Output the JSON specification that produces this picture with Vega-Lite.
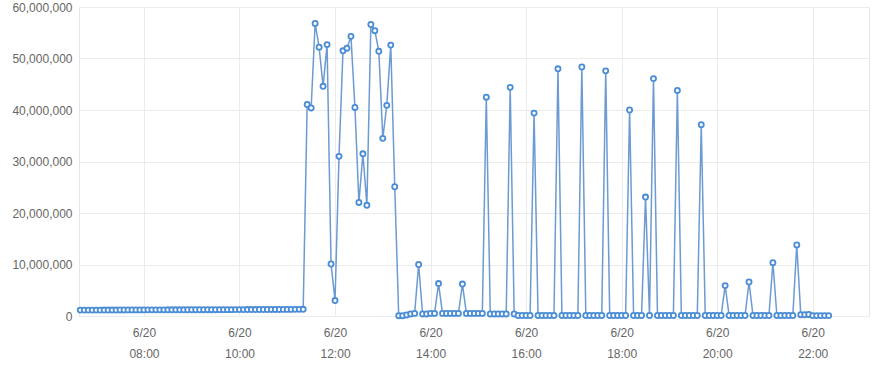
{
  "$schema": "https://vega.github.io/schema/vega-lite/v6.json",
  "autosize": "none",
  "width": 790,
  "height": 309,
  "padding": {"left": 79, "top": 7, "right": 7, "bottom": 54},
  "background": "white",
  "config": {
    "view": {"stroke": "#e6e6e6"},
    "font": "Liberation Sans",
    "axis": {"labelFont": "Liberation Sans", "labelFontSize": 12, "labelColor": "#666666", "gridColor": "#ebebeb", "domain": false, "ticks": false}
  },
  "data": {
    "values": [
      {"t": "2024-06-20T06:40", "v": 1150000},
      {"t": "2024-06-20T06:45", "v": 1150000},
      {"t": "2024-06-20T06:50", "v": 1150000},
      {"t": "2024-06-20T06:55", "v": 1150000},
      {"t": "2024-06-20T07:00", "v": 1150000},
      {"t": "2024-06-20T07:05", "v": 1150000},
      {"t": "2024-06-20T07:10", "v": 1160000},
      {"t": "2024-06-20T07:15", "v": 1160000},
      {"t": "2024-06-20T07:20", "v": 1160000},
      {"t": "2024-06-20T07:25", "v": 1160000},
      {"t": "2024-06-20T07:30", "v": 1170000},
      {"t": "2024-06-20T07:35", "v": 1170000},
      {"t": "2024-06-20T07:40", "v": 1180000},
      {"t": "2024-06-20T07:45", "v": 1180000},
      {"t": "2024-06-20T07:50", "v": 1180000},
      {"t": "2024-06-20T07:55", "v": 1180000},
      {"t": "2024-06-20T08:00", "v": 1180000},
      {"t": "2024-06-20T08:05", "v": 1190000},
      {"t": "2024-06-20T08:10", "v": 1190000},
      {"t": "2024-06-20T08:15", "v": 1190000},
      {"t": "2024-06-20T08:20", "v": 1190000},
      {"t": "2024-06-20T08:25", "v": 1190000},
      {"t": "2024-06-20T08:30", "v": 1200000},
      {"t": "2024-06-20T08:35", "v": 1200000},
      {"t": "2024-06-20T08:40", "v": 1200000},
      {"t": "2024-06-20T08:45", "v": 1200000},
      {"t": "2024-06-20T08:50", "v": 1200000},
      {"t": "2024-06-20T08:55", "v": 1210000},
      {"t": "2024-06-20T09:00", "v": 1210000},
      {"t": "2024-06-20T09:05", "v": 1210000},
      {"t": "2024-06-20T09:10", "v": 1210000},
      {"t": "2024-06-20T09:15", "v": 1220000},
      {"t": "2024-06-20T09:20", "v": 1220000},
      {"t": "2024-06-20T09:25", "v": 1220000},
      {"t": "2024-06-20T09:30", "v": 1220000},
      {"t": "2024-06-20T09:35", "v": 1230000},
      {"t": "2024-06-20T09:40", "v": 1230000},
      {"t": "2024-06-20T09:45", "v": 1230000},
      {"t": "2024-06-20T09:50", "v": 1230000},
      {"t": "2024-06-20T09:55", "v": 1240000},
      {"t": "2024-06-20T10:00", "v": 1240000},
      {"t": "2024-06-20T10:05", "v": 1240000},
      {"t": "2024-06-20T10:10", "v": 1250000},
      {"t": "2024-06-20T10:15", "v": 1250000},
      {"t": "2024-06-20T10:20", "v": 1250000},
      {"t": "2024-06-20T10:25", "v": 1260000},
      {"t": "2024-06-20T10:30", "v": 1260000},
      {"t": "2024-06-20T10:35", "v": 1260000},
      {"t": "2024-06-20T10:40", "v": 1270000},
      {"t": "2024-06-20T10:45", "v": 1270000},
      {"t": "2024-06-20T10:50", "v": 1270000},
      {"t": "2024-06-20T10:55", "v": 1280000},
      {"t": "2024-06-20T11:00", "v": 1280000},
      {"t": "2024-06-20T11:05", "v": 1280000},
      {"t": "2024-06-20T11:10", "v": 1290000},
      {"t": "2024-06-20T11:15", "v": 1290000},
      {"t": "2024-06-20T11:20", "v": 1300000},
      {"t": "2024-06-20T11:25", "v": 41070000},
      {"t": "2024-06-20T11:30", "v": 40400000},
      {"t": "2024-06-20T11:35", "v": 56800000},
      {"t": "2024-06-20T11:40", "v": 52200000},
      {"t": "2024-06-20T11:45", "v": 44600000},
      {"t": "2024-06-20T11:50", "v": 52700000},
      {"t": "2024-06-20T11:55", "v": 10100000},
      {"t": "2024-06-20T12:00", "v": 3000000},
      {"t": "2024-06-20T12:05", "v": 31000000},
      {"t": "2024-06-20T12:10", "v": 51500000},
      {"t": "2024-06-20T12:15", "v": 52000000},
      {"t": "2024-06-20T12:20", "v": 54300000},
      {"t": "2024-06-20T12:25", "v": 40500000},
      {"t": "2024-06-20T12:30", "v": 22050000},
      {"t": "2024-06-20T12:35", "v": 31500000},
      {"t": "2024-06-20T12:40", "v": 21500000},
      {"t": "2024-06-20T12:45", "v": 56600000},
      {"t": "2024-06-20T12:50", "v": 55400000},
      {"t": "2024-06-20T12:55", "v": 51400000},
      {"t": "2024-06-20T13:00", "v": 34500000},
      {"t": "2024-06-20T13:05", "v": 40900000},
      {"t": "2024-06-20T13:10", "v": 52600000},
      {"t": "2024-06-20T13:15", "v": 25100000},
      {"t": "2024-06-20T13:20", "v": 60000},
      {"t": "2024-06-20T13:25", "v": 60000},
      {"t": "2024-06-20T13:30", "v": 200000},
      {"t": "2024-06-20T13:35", "v": 400000},
      {"t": "2024-06-20T13:40", "v": 500000},
      {"t": "2024-06-20T13:45", "v": 10000000},
      {"t": "2024-06-20T13:50", "v": 400000},
      {"t": "2024-06-20T13:55", "v": 400000},
      {"t": "2024-06-20T14:00", "v": 500000},
      {"t": "2024-06-20T14:05", "v": 500000},
      {"t": "2024-06-20T14:10", "v": 6300000},
      {"t": "2024-06-20T14:15", "v": 500000},
      {"t": "2024-06-20T14:20", "v": 500000},
      {"t": "2024-06-20T14:25", "v": 500000},
      {"t": "2024-06-20T14:30", "v": 500000},
      {"t": "2024-06-20T14:35", "v": 500000},
      {"t": "2024-06-20T14:40", "v": 6200000},
      {"t": "2024-06-20T14:45", "v": 500000},
      {"t": "2024-06-20T14:50", "v": 500000},
      {"t": "2024-06-20T14:55", "v": 500000},
      {"t": "2024-06-20T15:00", "v": 500000},
      {"t": "2024-06-20T15:05", "v": 500000},
      {"t": "2024-06-20T15:10", "v": 42500000},
      {"t": "2024-06-20T15:15", "v": 400000},
      {"t": "2024-06-20T15:20", "v": 400000},
      {"t": "2024-06-20T15:25", "v": 400000},
      {"t": "2024-06-20T15:30", "v": 400000},
      {"t": "2024-06-20T15:35", "v": 400000},
      {"t": "2024-06-20T15:40", "v": 44400000},
      {"t": "2024-06-20T15:45", "v": 400000},
      {"t": "2024-06-20T15:50", "v": 100000},
      {"t": "2024-06-20T15:55", "v": 100000},
      {"t": "2024-06-20T16:00", "v": 100000},
      {"t": "2024-06-20T16:05", "v": 100000},
      {"t": "2024-06-20T16:10", "v": 39400000},
      {"t": "2024-06-20T16:15", "v": 100000},
      {"t": "2024-06-20T16:20", "v": 100000},
      {"t": "2024-06-20T16:25", "v": 100000},
      {"t": "2024-06-20T16:30", "v": 100000},
      {"t": "2024-06-20T16:35", "v": 100000},
      {"t": "2024-06-20T16:40", "v": 48000000},
      {"t": "2024-06-20T16:45", "v": 100000},
      {"t": "2024-06-20T16:50", "v": 100000},
      {"t": "2024-06-20T16:55", "v": 100000},
      {"t": "2024-06-20T17:00", "v": 100000},
      {"t": "2024-06-20T17:05", "v": 100000},
      {"t": "2024-06-20T17:10", "v": 48350000},
      {"t": "2024-06-20T17:15", "v": 100000},
      {"t": "2024-06-20T17:20", "v": 100000},
      {"t": "2024-06-20T17:25", "v": 100000},
      {"t": "2024-06-20T17:30", "v": 100000},
      {"t": "2024-06-20T17:35", "v": 100000},
      {"t": "2024-06-20T17:40", "v": 47600000},
      {"t": "2024-06-20T17:45", "v": 100000},
      {"t": "2024-06-20T17:50", "v": 100000},
      {"t": "2024-06-20T17:55", "v": 100000},
      {"t": "2024-06-20T18:00", "v": 100000},
      {"t": "2024-06-20T18:05", "v": 100000},
      {"t": "2024-06-20T18:10", "v": 40000000},
      {"t": "2024-06-20T18:15", "v": 100000},
      {"t": "2024-06-20T18:20", "v": 100000},
      {"t": "2024-06-20T18:25", "v": 100000},
      {"t": "2024-06-20T18:30", "v": 23100000},
      {"t": "2024-06-20T18:35", "v": 100000},
      {"t": "2024-06-20T18:40", "v": 46100000},
      {"t": "2024-06-20T18:45", "v": 100000},
      {"t": "2024-06-20T18:50", "v": 100000},
      {"t": "2024-06-20T18:55", "v": 100000},
      {"t": "2024-06-20T19:00", "v": 100000},
      {"t": "2024-06-20T19:05", "v": 100000},
      {"t": "2024-06-20T19:10", "v": 43800000},
      {"t": "2024-06-20T19:15", "v": 100000},
      {"t": "2024-06-20T19:20", "v": 100000},
      {"t": "2024-06-20T19:25", "v": 100000},
      {"t": "2024-06-20T19:30", "v": 100000},
      {"t": "2024-06-20T19:35", "v": 100000},
      {"t": "2024-06-20T19:40", "v": 37150000},
      {"t": "2024-06-20T19:45", "v": 100000},
      {"t": "2024-06-20T19:50", "v": 100000},
      {"t": "2024-06-20T19:55", "v": 100000},
      {"t": "2024-06-20T20:00", "v": 100000},
      {"t": "2024-06-20T20:05", "v": 100000},
      {"t": "2024-06-20T20:10", "v": 5900000},
      {"t": "2024-06-20T20:15", "v": 100000},
      {"t": "2024-06-20T20:20", "v": 100000},
      {"t": "2024-06-20T20:25", "v": 100000},
      {"t": "2024-06-20T20:30", "v": 100000},
      {"t": "2024-06-20T20:35", "v": 100000},
      {"t": "2024-06-20T20:40", "v": 6600000},
      {"t": "2024-06-20T20:45", "v": 100000},
      {"t": "2024-06-20T20:50", "v": 100000},
      {"t": "2024-06-20T20:55", "v": 100000},
      {"t": "2024-06-20T21:00", "v": 100000},
      {"t": "2024-06-20T21:05", "v": 100000},
      {"t": "2024-06-20T21:10", "v": 10350000},
      {"t": "2024-06-20T21:15", "v": 100000},
      {"t": "2024-06-20T21:20", "v": 100000},
      {"t": "2024-06-20T21:25", "v": 100000},
      {"t": "2024-06-20T21:30", "v": 100000},
      {"t": "2024-06-20T21:35", "v": 100000},
      {"t": "2024-06-20T21:40", "v": 13800000},
      {"t": "2024-06-20T21:45", "v": 250000},
      {"t": "2024-06-20T21:50", "v": 250000},
      {"t": "2024-06-20T21:55", "v": 300000},
      {"t": "2024-06-20T22:00", "v": 80000},
      {"t": "2024-06-20T22:05", "v": 80000},
      {"t": "2024-06-20T22:10", "v": 80000},
      {"t": "2024-06-20T22:15", "v": 80000},
      {"t": "2024-06-20T22:20", "v": 80000}
    ]
  },
  "encoding": {
    "x": {
      "field": "t",
      "type": "temporal",
      "title": null,
      "scale": {
        "domain": [
          {"year": 2024, "month": 6, "date": 20, "hours": 6, "minutes": 38, "seconds": 24},
          {"year": 2024, "month": 6, "date": 20, "hours": 23, "minutes": 10, "seconds": 42}
        ]
      },
      "axis": {
        "values": [
          {"year": 2024, "month": 6, "date": 20, "hours": 8},
          {"year": 2024, "month": 6, "date": 20, "hours": 10},
          {"year": 2024, "month": 6, "date": 20, "hours": 12},
          {"year": 2024, "month": 6, "date": 20, "hours": 14},
          {"year": 2024, "month": 6, "date": 20, "hours": 16},
          {"year": 2024, "month": 6, "date": 20, "hours": 18},
          {"year": 2024, "month": 6, "date": 20, "hours": 20},
          {"year": 2024, "month": 6, "date": 20, "hours": 22}
        ],
        "labelExpr": "[timeFormat(datum.value, '%-m/%-d'), timeFormat(datum.value, '%H:%M')]",
        "labelLineHeight": 21,
        "labelPadding": 11,
        "labelFlush": false,
        "labelOverlap": false
      }
    },
    "y": {
      "field": "v",
      "type": "quantitative",
      "title": null,
      "scale": {"domain": [0, 60000000], "nice": false},
      "axis": {"values": [0, 10000000, 20000000, 30000000, 40000000, 50000000, 60000000], "format": ",d", "labelPadding": 7}
    }
  },
  "layer": [
    {"mark": {"type": "line", "color": "#6b9bd2", "strokeWidth": 1.5}},
    {"mark": {"type": "point", "filled": true, "fill": "white", "stroke": "#4a8cd5", "strokeWidth": 1.8, "size": 26, "opacity": 1}}
  ]
}
